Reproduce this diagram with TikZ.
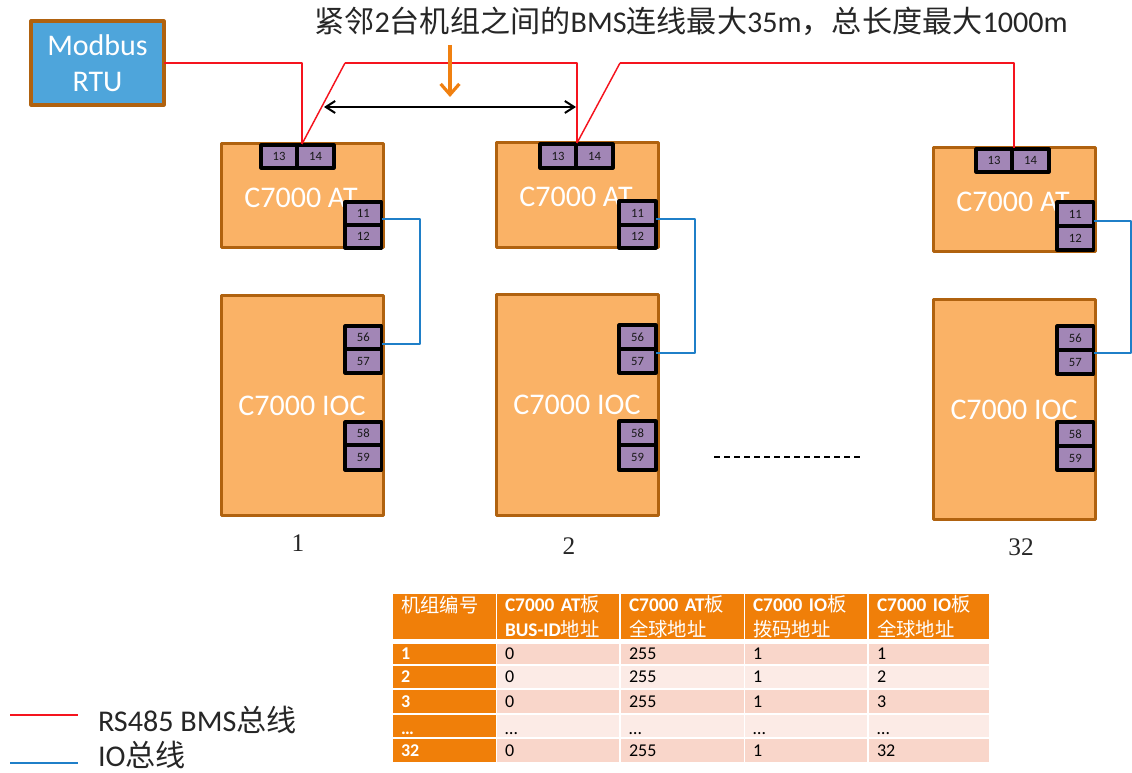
\documentclass[tikz,border=0pt]{standalone}
\usepackage{fontspec}
\usetikzlibrary{arrows.meta}
\setmainfont{Carlito}
\newfontfamily\cjk{Noto Sans CJK SC}
\newfontfamily\numserif{Liberation Serif}
\newcommand{\zh}[1]{{\mdseries\cjk #1}}
\definecolor{bordbrown}{HTML}{B0620F}
\definecolor{boardfill}{HTML}{FAB266}
\definecolor{portfill}{HTML}{A286B6}
\definecolor{rtufill}{HTML}{4EA5DB}
\definecolor{tborange}{HTML}{F07F09}
\definecolor{rowa}{HTML}{F9D6CA}
\definecolor{rowb}{HTML}{FCEBE6}
\definecolor{iowire}{HTML}{1F7FC8}
\definecolor{redwire}{HTML}{F5141E}
\definecolor{arroworange}{HTML}{F08010}
\newcommand{\bx}[7]{%
  \pgfmathsetmacro{\bxcx}{(#2+#4)/2}\pgfmathsetmacro{\bxcy}{(#3+#5)/2}%
  \pgfmathsetmacro{\bxw}{(#4-#2)*0.75}\pgfmathsetmacro{\bxh}{(#5-#3)*0.75}%
  \node[#6,minimum width=\bxw pt,minimum height=\bxh pt] (#1) at (\bxcx,\bxcy) {#7};}
\newcommand{\dotsrow}{\raisebox{-3pt}[0.6em][0.1em]{…}}
\tikzset{
  x=0.75pt,y=-0.75pt,
  every node/.style={inner sep=0pt,outer sep=0pt},
  board/.style={draw=bordbrown,fill=boardfill,line width=2.25pt,line join=round},
  rtu/.style={draw=bordbrown,fill=rtufill,line width=2.4pt,line join=round,text=white,font=\fontsize{22.5}{27}\selectfont,align=center},
  port/.style={draw=black,fill=portfill,line width=2.3pt,line join=round,font=\fontsize{9.5}{10}\selectfont,text=black!90},
  boardlabel/.style={text=white,font=\fontsize{22.5}{26}\selectfont},
  redline/.style={draw=redwire,line width=1.1pt,line join=round},
  ioline/.style={draw=iowire,line width=1.1pt,line join=round},
  numlabel/.style={font=\numserif\fontsize{19}{22}\selectfont,text=black!85},
  hcell/.style={fill=tborange,text=white,font=\bfseries\fontsize{14.5}{18.5}\selectfont,align=left,text width=\bxw pt-12pt},
  lcell/.style={fill=tborange,text=white,font=\bfseries\fontsize{13.5}{15}\selectfont,align=left,text width=\bxw pt-12pt},
  acell/.style={fill=rowa,font=\fontsize{13.5}{15}\selectfont,align=left,text width=\bxw pt-12pt},
  bcell/.style={fill=rowb,font=\fontsize{13.5}{15}\selectfont,align=left,text width=\bxw pt-12pt},
}
\begin{document}
\begin{tikzpicture}
\useasboundingbox (0,0) rectangle (1132,773);
% Modbus
\bx{rtu}{31}{21}{164}{105}{rtu}{Modbus\\RTU}
% Unit 1
\bx{ata}{221}{144}{383}{248}{board}{}
\node[boardlabel] (atla) at (301,198) {C7000 AT};
\bx{ioa}{221}{296}{383}{515}{board}{}
\node[boardlabel] (iola) at (302,406) {C7000 IOC};
\bx{pa13}{261}{145}{297}{168}{port}{13}
\bx{pa14}{297}{145}{334}{168}{port}{14}
\bx{pa11}{345}{202}{381.5}{225}{port}{11}
\bx{pa12}{345}{225}{381.5}{248}{port}{12}
\bx{pa56}{345}{326}{381.5}{349}{port}{56}
\bx{pa57}{345}{349}{381.5}{373}{port}{57}
\bx{pa58}{345}{422}{381.5}{445}{port}{58}
\bx{pa59}{345}{445}{381.5}{470}{port}{59}
% Unit 2
\bx{atb}{496}{143}{658}{248}{board}{}
\node[boardlabel] (atlb) at (576,197) {C7000 AT};
\bx{iob}{496}{295}{658}{515}{board}{}
\node[boardlabel] (iolb) at (577,405) {C7000 IOC};
\bx{pb13}{540}{144}{576}{168}{port}{13}
\bx{pb14}{576}{144}{613}{168}{port}{14}
\bx{pb11}{619}{201}{656}{225}{port}{11}
\bx{pb12}{619}{225}{656}{248}{port}{12}
\bx{pb56}{619}{325}{656}{349}{port}{56}
\bx{pb57}{619}{349}{656}{373}{port}{57}
\bx{pb58}{619}{421}{656}{445}{port}{58}
\bx{pb59}{619}{445}{656}{470}{port}{59}
% Unit 32
\bx{atc}{933}{148}{1095}{252}{board}{}
\node[boardlabel] (atlc) at (1013,202) {C7000 AT};
\bx{ioc}{933}{300}{1095}{519}{board}{}
\node[boardlabel] (iolc) at (1014,410) {C7000 IOC};
\bx{pc13}{976}{149}{1012}{172}{port}{13}
\bx{pc14}{1012}{149}{1049}{172}{port}{14}
\bx{pc11}{1057}{202}{1093.5}{226}{port}{11}
\bx{pc12}{1057}{226}{1093.5}{250}{port}{12}
\bx{pc56}{1057}{326}{1093.5}{350}{port}{56}
\bx{pc57}{1057}{350}{1093.5}{374}{port}{57}
\bx{pc58}{1057}{422}{1093.5}{446}{port}{58}
\bx{pc59}{1057}{446}{1093.5}{470}{port}{59}
% Red wiring
\coordinate (ra) at (345,63);
\coordinate (rb) at (620,63);
\draw[redline] (rtu.east) -| (ata.north);
\draw[redline] (ata.north) -- (ra);
\draw[redline] (ra) -| (atb.north);
\draw[redline] (atb.north) -- (rb);
\draw[redline] (rb) -| (atc.north);
% Blue wiring
\coordinate (bat) at (420,219); \coordinate (bab) at (420,344);
\coordinate (bbt) at (695,219); \coordinate (bbb) at (695,353);
\coordinate (bct) at (1131,221); \coordinate (bcb) at (1131,353);
\draw[ioline] (pa11.east |- bat) -- (bat) -- (bab) -- (pa56.east |- bab);
\draw[ioline] (pb11.east |- bbt) -- (bbt) -- (bbb) -- (pb57.east |- bbb);
\draw[ioline] (pc11.east |- bct) -- (bct) -- (bcb) -- (pc57.east |- bcb);
% Title and arrows
\node[font=\fontsize{22.6}{26}\selectfont,text=black!85] (title) at (691,21) {\zh{紧邻}2\zh{台机组之间的}BMS\zh{连线最大}35m\zh{，总长度最大}1000m};
\coordinate (spl) at (324,107); \coordinate (spr) at (576,107);
\draw[black,line width=1.5pt,{Straight Barb[length=7pt,width=9pt]}-{Straight Barb[length=7pt,width=9pt]}] (spl) -- (spr);
\coordinate (oat) at (450,45); \coordinate (oab) at (450,97);
\draw[arroworange,line width=2.4pt,-{Straight Barb[length=8pt,width=14pt]}] (oat) -- (oab);
% Dashes and numbers
\coordinate (da) at (714,457); \coordinate (db) at (862,457);
\draw[black,line width=0.9pt,dash pattern=on 4.5pt off 3pt] (da) -- (db);
\node[numlabel] (n1) at (298,543) {1};
\node[numlabel] (n2) at (569,546) {2};
\node[numlabel] (n32) at (1021,547) {32};
% Legend
\node[anchor=west,font=\fontsize{22.6}{26}\selectfont,text=black!85] (lgr) at (98,720) {RS485 BMS\zh{总线}};
\node[anchor=west,font=\fontsize{22.6}{26}\selectfont,text=black!85] (lgb) at (98,755) {IO\zh{总线}};
\coordinate (lra) at (10,715); \coordinate (lrb) at (78,715);
\coordinate (lba) at (10,763); \coordinate (lbb) at (78,763);
\draw[redline] (lra) -- (lrb);
\draw[ioline] (lba) -- (lbb);
% Table header
\bx{h0}{393}{594}{496}{639}{hcell}{\zh{机组编号}\\\mbox{}}
\bx{h1}{497}{594}{619}{639}{hcell}{C7000 AT\zh{板}\\BUS-ID\zh{地址}}
\bx{h2}{621}{594}{744}{639}{hcell}{C7000 AT\zh{板}\\\zh{全球地址}}
\bx{h3}{745}{594}{867}{639}{hcell}{C7000 IO\zh{板}\\\zh{拨码地址}}
\bx{h4}{869}{594}{989}{639}{hcell}{C7000 IO\zh{板}\\\zh{全球地址}}
% Table rows
\bx{r1a}{393}{644}{496}{664}{lcell}{1}
\bx{r1b}{497}{644}{619}{664}{acell}{0}
\bx{r1c}{621}{644}{744}{664}{acell}{255}
\bx{r1d}{745}{644}{867}{664}{acell}{1}
\bx{r1e}{869}{644}{989}{664}{acell}{1}
\bx{r2a}{393}{666}{496}{688}{lcell}{2}
\bx{r2b}{497}{666}{619}{688}{bcell}{0}
\bx{r2c}{621}{666}{744}{688}{bcell}{255}
\bx{r2d}{745}{666}{867}{688}{bcell}{1}
\bx{r2e}{869}{666}{989}{688}{bcell}{2}
\bx{r3a}{393}{690}{496}{713}{lcell}{3}
\bx{r3b}{497}{690}{619}{713}{acell}{0}
\bx{r3c}{621}{690}{744}{713}{acell}{255}
\bx{r3d}{745}{690}{867}{713}{acell}{1}
\bx{r3e}{869}{690}{989}{713}{acell}{3}
\bx{r4a}{393}{715}{496}{737}{lcell}{\dotsrow}
\bx{r4b}{497}{715}{619}{737}{bcell}{\dotsrow}
\bx{r4c}{621}{715}{744}{737}{bcell}{\dotsrow}
\bx{r4d}{745}{715}{867}{737}{bcell}{\dotsrow}
\bx{r4e}{869}{715}{989}{737}{bcell}{\dotsrow}
\bx{r5a}{393}{739}{496}{762}{lcell}{32}
\bx{r5b}{497}{739}{619}{762}{acell}{0}
\bx{r5c}{621}{739}{744}{762}{acell}{255}
\bx{r5d}{745}{739}{867}{762}{acell}{1}
\bx{r5e}{869}{739}{989}{762}{acell}{32}
\end{tikzpicture}
\end{document}
